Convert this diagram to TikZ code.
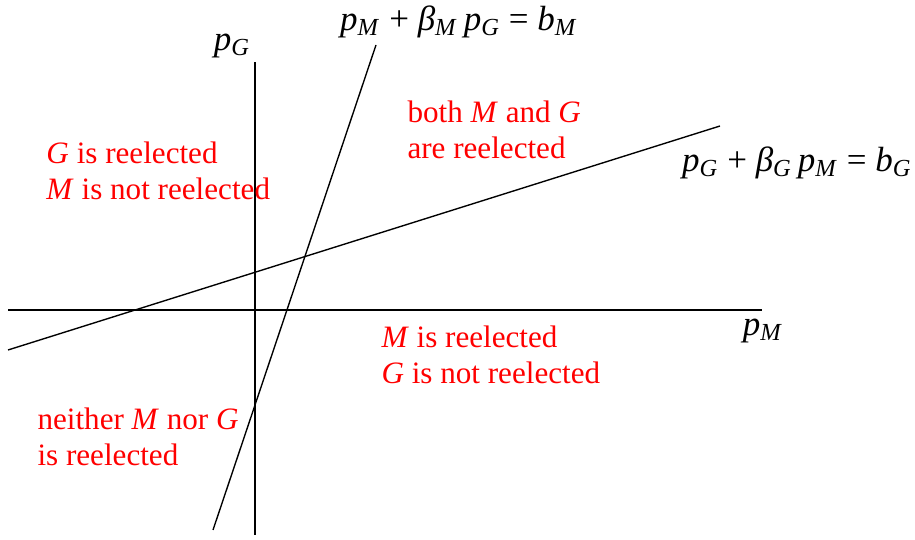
\documentclass[tikz,border=0pt]{standalone}
\usepackage{fontspec}
\setmainfont{Liberation Serif}
\usepackage{tikz}
\usepackage{xcolor}
\usetikzlibrary{positioning,calc}
\newcommand{\vsym}[2]{\textit{#1}\textsubscript{\textit{#2}}}
\definecolor{elred}{HTML}{FF0000}
\tikzset{
  axisLine/.style={draw=black, line width=0.8pt},
  curveLine/.style={draw=black, line width=0.55pt},
  eqLabel/.style={font=\fontsize{14}{16}\selectfont, inner sep=0pt},
  regionLabel/.style={text=elred, font=\fontsize{12.45}{14.4}\selectfont, align=left, anchor=west, inner sep=0pt}
}

\begin{document}
\begin{tikzpicture}[x=0.4pt,y=0.4pt]
  \useasboundingbox (0,0) rectangle (915,540);
  % axes
  \coordinate (xl) at (8,230);
  \coordinate (xr) at (762,230);
  \coordinate (yb) at (255,5);
  \coordinate (yt) at (255,478);
  \draw[axisLine] (xl) -- (xr);
  \draw[axisLine] (yb) -- (yt);
  \node[eqLabel] (pG) at (232,494) {\vsym{p}{G}};
  \node[eqLabel] (pM) at (763,209) {\vsym{p}{M}};
  % the two lines
  \coordinate (mLow) at (213,10);
  \coordinate (mHigh) at (376,495);
  \coordinate (gLow) at (8,190);
  \coordinate (gHigh) at (720,414);
  \draw[curveLine] (mLow) -- (mHigh);
  \draw[curveLine] (gLow) -- (gHigh);
  \node[eqLabel] (eqM) at (459,518) {\vsym{p}{M} + \vsym{β}{M}\,\vsym{p}{G} = \vsym{b}{M}};
  \node[eqLabel] (eqG) at (797,377) {\vsym{p}{G} + \vsym{β}{G}\,\vsym{p}{M} = \vsym{b}{G}};
  % regions
  \node[regionLabel] (nw) at (46,369) {\textit{G} is reelected\\\textit{M} is not reelected};
  \node[regionLabel] (ne) at (407,410) {both \textit{M} and \textit{G}\\are reelected};
  \node[regionLabel] (se) at (381,185) {\textit{M} is reelected\\\textit{G} is not reelected};
  \node[regionLabel] (sw) at (37,103) {neither \textit{M} nor \textit{G}\\is reelected};
\end{tikzpicture}
\end{document}
